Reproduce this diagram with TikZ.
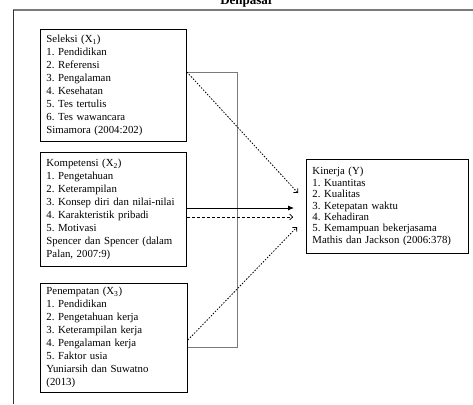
\documentclass[tikz,border=0pt]{standalone}
\usepackage{fontspec}
\setmainfont{Liberation Serif}
\usepackage{tikz}
\usetikzlibrary{arrows.meta,calc}
\definecolor{framegray}{HTML}{7A7A7A}
\frenchspacing

\begin{document}
\begin{tikzpicture}[
  x=1pt,y=-1pt,
  font=\fontsize{10.8}{13}\selectfont,
  varbox/.style={draw=black,line width=0.9pt,anchor=north west,align=left,inner xsep=6pt,inner ysep=4pt},
  solidarr/.style={line width=0.8pt,-{Latex[length=6pt,width=5pt]}},
  dasharr/.style={line width=0.7pt,dash pattern=on 3pt off 2pt,-{Straight Barb[length=3pt,width=6pt]}},
  dotarr/.style={line width=0.8pt,dash pattern=on 1.5pt off 1.5pt,-{Straight Barb[length=3pt,width=6pt]}},
]
\useasboundingbox (0,0) rectangle (473,404);
% title, cut off at the top
\node[font=\fontsize{13}{15}\bfseries\selectfont,anchor=base] (title) at (247,5) {Denpasar};
% frame
\draw[framegray,line width=1.4pt] (13,10) -- (473,10);
\draw[black!80,line width=0.8pt] (13,10) -- (13,404);

\node[varbox,text width=134pt,minimum height=112pt] (seleksi) at (40,29) {Seleksi (X\textsubscript{1})\\1. Pendidikan\\2. Referensi\\3. Pengalaman\\4. Kesehatan\\5. Tes tertulis\\6. Tes wawancara\\Simamora (2004:202)};
\node[varbox,text width=134pt,minimum height=114pt] (kompetensi) at (40,152) {Kompetensi (X\textsubscript{2})\\1. Pengetahuan\\2. Keterampilan\\3. Konsep diri dan nilai-nilai\\4. Karakteristik pribadi\\5. Motivasi\\Spencer dan Spencer (dalam\\Palan, 2007:9)};
\node[varbox,text width=135pt,minimum height=108pt] (penempatan) at (40,283) {Penempatan (X\textsubscript{3})\\1. Pendidikan\\2. Pengetahuan kerja\\3. Keterampilan kerja\\4. Pengalaman kerja\\5. Faktor usia\\Yuniarsih dan Suwatno\\(2013)};
\node[varbox,text width=150pt,minimum height=94pt,font=\fontsize{10.8}{11.4}\selectfont] (kinerja) at (306,159) {Kinerja (Y)\\1. Kuantitas\\2. Kualitas\\3. Ketepatan waktu\\4. Kehadiran\\5. Kemampuan bekerjasama\\Mathis dan Jackson (2006:378)};

% bracket joining X1 and X3
\coordinate (brtop) at (237,72);
\coordinate (brbot) at (237,347);
\draw[framegray,line width=1pt] (seleksi.east |- brtop) -- (brtop) -- (brbot) -- (penempatan.east |- brbot);

% arrow ends in front of Y
\coordinate (ya) at (298,193);
\coordinate (yb) at (294,208);
\coordinate (yc) at (293,217);
\coordinate (yd) at (297,227);
\coordinate (xc) at (188,340);

% arrows into Y
\draw[dotarr] (seleksi.east |- brtop) -- (ya);
\draw[solidarr] (kompetensi.east |- yb) -- (yb);
\draw[dasharr] (kompetensi.east |- yc) -- (yc);
\draw[dotarr] (penempatan.east |- xc) -- (yd);
\end{tikzpicture}
\end{document}
